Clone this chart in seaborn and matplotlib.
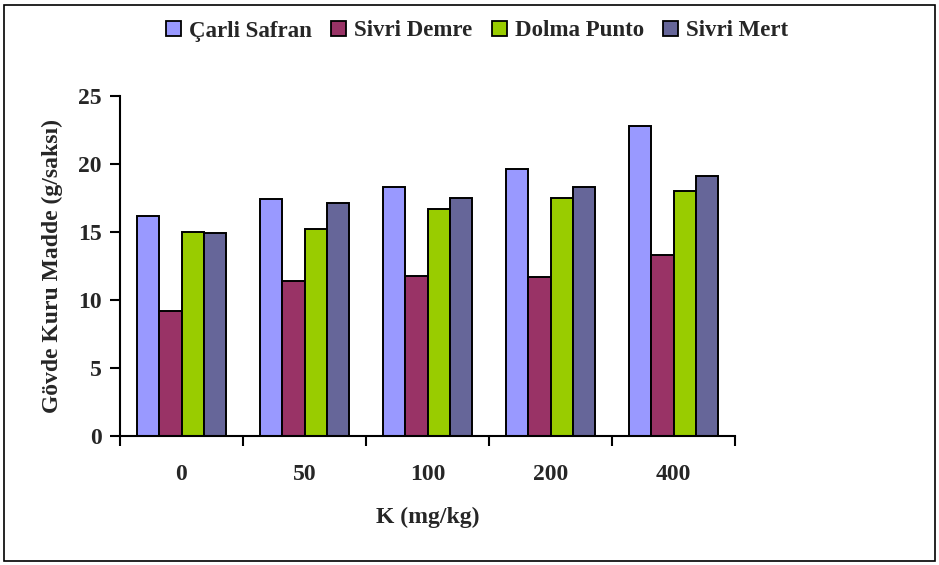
import matplotlib
matplotlib.use("Agg")
import matplotlib.pyplot as plt
import matplotlib.patches as mpatches
from matplotlib.ticker import FixedLocator
import seaborn as sns
import pandas as pd

categories = ["0", "50", "100", "200", "400"]
series_names = ["Çarli Safran", "Sivri Demre", "Dolma Punto", "Sivri Mert"]
carli_safran = [16.2, 17.4, 18.3, 19.6, 22.8]
sivri_demre = [9.2, 11.4, 11.8, 11.7, 13.3]
dolma_punto = [15.0, 15.2, 16.7, 17.5, 18.0]
sivri_mert = [14.9, 17.1, 17.5, 18.3, 19.1]
colors = ["#9999FF", "#993366", "#99CC00", "#666699"]
y_ticks = [0, 5, 10, 15, 20, 25]

rows = []
for name, vals in zip(series_names, [carli_safran, sivri_demre, dolma_punto, sivri_mert]):
    for c, v in zip(categories, vals):
        rows.append({"K": c, "Çeşit": name, "val": v})
df = pd.DataFrame(rows)

sns.set_theme(style="white")
plt.rcParams["font.family"] = ["Liberation Serif", "DejaVu Serif"]
plt.rcParams["font.weight"] = "bold"

FS = 17

fig = plt.figure(figsize=(9.39, 5.65), dpi=100)
ax = fig.add_axes([120/939, 1-436/565, 615/939, 340/565])

sns.barplot(data=df, x="K", y="val", hue="Çeşit", order=categories,
            hue_order=series_names, palette=colors, width=0.72,
            edgecolor="black", linewidth=1.4, saturation=1, ax=ax, legend=False)

ax.set_xlim(-0.5, 4.5)
ax.set_ylim(0, 25)
ax.set_yticks(y_ticks)
ax.set_yticklabels([str(t) for t in y_ticks], fontsize=FS, fontweight="bold")
ax.set_xticks(range(len(categories)))
ax.set_xticklabels(categories, fontsize=FS, fontweight="bold")
ax.xaxis.set_minor_locator(FixedLocator([i - 0.5 for i in range(len(categories) + 1)]))
ax.tick_params(axis="x", which="major", length=0, pad=20)
ax.tick_params(axis="x", which="minor", length=7, width=1.5, direction="out", color="black", bottom=True)
ax.tick_params(axis="y", which="major", length=7, width=1.5, direction="out", color="black", left=True, pad=6)
for s in ["top", "right"]:
    ax.spines[s].set_visible(False)
for s in ["left", "bottom"]:
    ax.spines[s].set_color("black")
    ax.spines[s].set_linewidth(1.5)

ax.set_xlabel("K (mg/kg)", fontsize=FS, fontweight="bold", labelpad=16)
ax.set_ylabel("Gövde Kuru Madde (g/saksı)", fontsize=FS, fontweight="bold", labelpad=11)

handles = [mpatches.Patch(facecolor=c, edgecolor="black", linewidth=1.3, label=n)
           for c, n in zip(colors, series_names)]
fig.legend(handles=handles, loc="center", bbox_to_anchor=(477/939, 1-31/565), ncol=4,
           frameon=False, handlelength=0.65, handleheight=0.65,
           handletextpad=0.35, columnspacing=0.85, prop={"weight": "bold", "size": 16.5})

border = mpatches.Rectangle((4/939, 4/565), 931/939, 556/565, transform=fig.transFigure,
                            fill=False, edgecolor="black", linewidth=1.2)
fig.patches.append(border)

fig.savefig("out.png", dpi=100)
